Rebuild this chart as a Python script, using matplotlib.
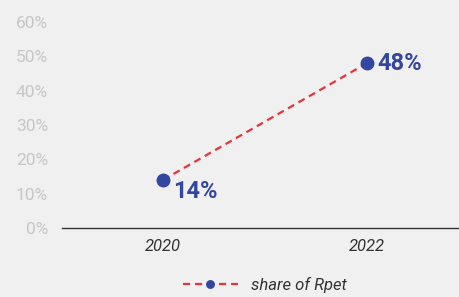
import numpy as np
import matplotlib.pyplot as plt
from matplotlib.ticker import FuncFormatter

# datos
years = ['2020', '2022']
share = [14, 48]
series_name = 'share of Rpet'
value_labels = ['14%', '48%']

bg = '#f0f0f0'
fig = plt.figure(figsize=(4.6, 2.97), dpi=100, facecolor=bg)
ax = fig.add_axes([62/460, 1-228/297, 398/460, (228-22)/297])
ax.set_facecolor(bg)

x = np.arange(len(years))
ax.plot(x, share, color='#e8333a', linestyle=(0, (3.2, 2.2)), linewidth=1.6,
        marker='o', markersize=9, markerfacecolor='#3346a0',
        markeredgecolor='#3346a0', label=series_name)

# etiquetas de valores
offsets = [(0.05, -3.5), (0.05, 0)]
for xi, yi, lab, (dx, dy) in zip(x, share, value_labels, offsets):
    ax.text(xi + dx, yi + dy, lab, color='#3346a0', fontsize=17,
            fontweight='bold', family=['Roboto', 'DejaVu Sans'],
            va='center', ha='left')

ax.set_ylim(0, 60)
ax.set_xlim(-0.496, 1.457)
ax.set_yticks(np.arange(0, 61, 10))
ax.yaxis.set_major_formatter(FuncFormatter(lambda v, p: f'{v:.0f}%'))
ax.set_xticks(x)
ax.set_xticklabels(years)

for s in ['top', 'right', 'left']:
    ax.spines[s].set_visible(False)
ax.spines['bottom'].set_color('#333333')
ax.spines['bottom'].set_linewidth(1.0)
ax.tick_params(axis='y', length=0, pad=10, labelcolor='#c6c6c6', labelsize=12.5)
ax.tick_params(axis='x', length=0, pad=8, labelcolor='#333333', labelsize=12)
for t in ax.get_yticklabels():
    t.set_family(['Roboto', 'DejaVu Sans'])
for t in ax.get_xticklabels():
    t.set_family(['Roboto', 'DejaVu Sans'])
    t.set_style('italic')

leg = ax.legend(loc='upper center', bbox_to_anchor=(0.51, -0.163), frameon=False,
                handlelength=3.3, markerscale=0.6,
                prop={'family': 'Roboto', 'style': 'italic', 'size': 12})
for t in leg.get_texts():
    t.set_color('#333333')

fig.savefig('out.png', dpi=100, facecolor=bg)
